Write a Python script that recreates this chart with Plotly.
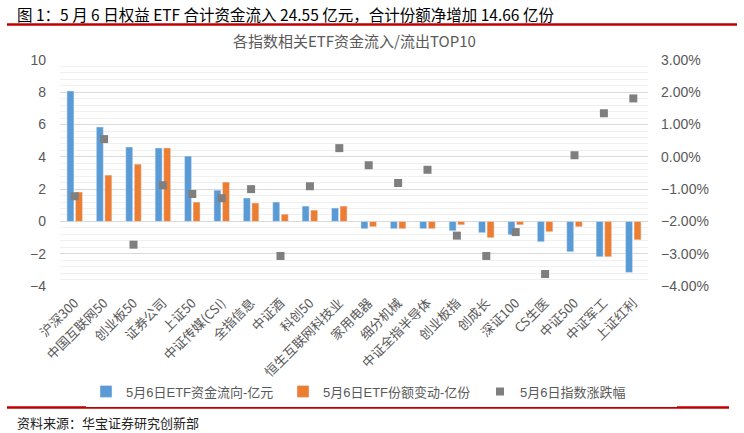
import plotly.graph_objects as go

categories = ["沪深300", "中国互联网50", "创业板50", "证券公司", "上证50", "中证传媒(CSI)", "全指信息",
              "中证酒", "科创50", "恒生互联网科技业", "家用电器", "细分机械", "中证全指半导体", "创业板指",
              "创成长", "深证100", "CS生医", "中证500", "中证军工", "上证红利"]
fund_flow = [8.08, 5.85, 4.61, 4.55, 4.05, 1.94, 1.45, 1.20, 0.95, 0.83,
             -0.45, -0.45, -0.45, -0.58, -0.70, -0.83, -1.26, -1.88, -2.19, -3.16]
share_change = [1.82, 2.87, 3.55, 4.55, 1.20, 2.44, 1.14, 0.45, 0.70, 0.95,
                -0.33, -0.45, -0.45, -0.21, -1.01, -0.21, -0.64, -0.33, -2.19, -1.14]
index_change = [-0.0122, 0.0055, -0.0272, -0.0088, -0.0115, -0.0128, -0.0100, -0.0307, -0.0091, 0.0027,
                -0.0026, -0.0081, -0.0040, -0.0244, -0.0307, -0.0233, -0.0363, 0.0005, 0.0135, 0.0181]

names = ["5月6日ETF资金流向-亿元", "5月6日ETF份额变动-亿份", "5月6日指数涨跌幅"]
header = "图 1：5 月 6 日权益 ETF 合计资金流入 24.55 亿元，合计份额净增加 14.66 亿份"
chart_title = "各指数相关ETF资金流入/流出TOP10"
source = "资料来源：华宝证券研究创新部"

FONT = "Liberation Sans, Arial, Noto Sans CJK SC, sans-serif"
CJK = "Noto Sans CJK SC, sans-serif"
GRAY = "#595959"

# layout geometry (pixels)
W, H = 744, 433
L, R, T, B = 60, 96, 60, 147
PW, PH = W - L - R, H - T - B


def px(x):
    return (x - L) / PW


def py(y):
    return (H - B - y) / PH


fig = go.Figure()
fig.add_trace(go.Bar(x=categories, y=fund_flow, name=names[0], marker_color="#5b9bd5"))
fig.add_trace(go.Bar(x=categories, y=share_change, name=names[1], marker_color="#ed7d31"))
fig.add_trace(go.Scatter(x=categories, y=index_change, name=names[2], mode="markers", yaxis="y2",
                         marker=dict(symbol="square", size=8, color="#7f7f7f")))

fig.update_layout(
    width=W, height=H,
    margin=dict(l=L, r=R, t=T, b=B, autoexpand=False),
    paper_bgcolor="white", plot_bgcolor="white",
    font=dict(family=FONT, color=GRAY, size=12),
    barmode="group", bargap=0.42, bargroupgap=0.18,
    showlegend=True,
    legend=dict(orientation="h", x=px(86), xanchor="left", y=py(391.5), yanchor="middle",
                font=dict(size=13, color=GRAY, family=FONT), entrywidth=152, entrywidthmode="pixels",
                itemwidth=30, traceorder="normal", tracegroupgap=0),
    xaxis=dict(tickangle=-45, tickfont=dict(size=13, color=GRAY, family=CJK), range=[-0.5, len(categories) - 0.5],
               showgrid=False, showline=False, ticks="", automargin=False, ticklabelstandoff=6),
    yaxis=dict(range=[-4, 10], dtick=2, showgrid=True, gridcolor="#d9d9d9", gridwidth=1,
               zeroline=True, zerolinecolor="#d9d9d9", zerolinewidth=1, automargin=False,
               minor=dict(dtick=0.4, showgrid=True, gridcolor="#f0f0f0", gridwidth=1),
               tickfont=dict(size=14, color=GRAY), ticks="", ticklabelstandoff=13),
    yaxis2=dict(range=[-0.04, 0.03], dtick=0.01, tickformat=".2%", overlaying="y", side="right",
                showgrid=False, zeroline=False, tickfont=dict(size=14, color=GRAY), ticks="",
                ticklabelstandoff=12, automargin=False),
)

fig.add_annotation(text=header, xref="paper", yref="paper", x=px(15), y=py(14), xanchor="left",
                   yanchor="middle", showarrow=False,
                   font=dict(size=15.5, color="#000000", family=CJK))
fig.add_annotation(text=chart_title, xref="paper", yref="paper", x=0.5, y=py(40), xanchor="center",
                   yanchor="middle", showarrow=False,
                   font=dict(size=15, color=GRAY, family=CJK))
fig.add_annotation(text=source, xref="paper", yref="paper", x=px(15), y=py(422.5), xanchor="left",
                   yanchor="middle", showarrow=False,
                   font=dict(size=13, color="#222222", family=CJK))

for yline, x1 in [(24.5, 737), (407.5, 729)]:
    fig.add_shape(type="line", xref="paper", yref="paper", x0=px(7), x1=px(x1), y0=py(yline), y1=py(yline),
                  line=dict(color="#c00000", width=2.5))

fig.write_html("out.html", config={"displayModeBar": False},
               post_script="document.body.style.margin='0';document.body.style.overflow='hidden';")
